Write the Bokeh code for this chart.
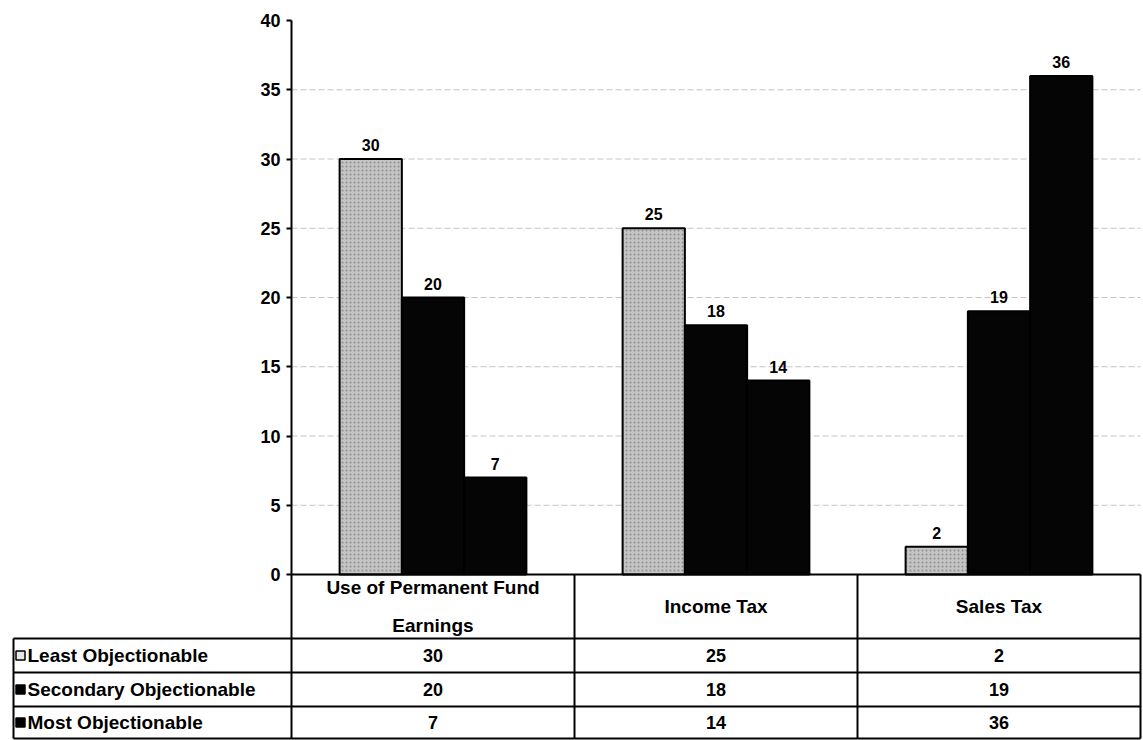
from bokeh.plotting import figure
from bokeh.models import Range1d, FixedTicker
from bokeh.core.properties import value
from bokeh.embed import file_html
from bokeh.resources import INLINE

# ---------------- data ----------------
categories = ["Use of Permanent Fund\nEarnings", "Income Tax", "Sales Tax"]
series_names = ["Least Objectionable", "Secondary Objectionable", "Most Objectionable"]
least = [30, 25, 2]
secondary = [20, 18, 19]
most = [7, 14, 36]
y_ticks = [0, 5, 10, 15, 20, 25, 30, 35, 40]
grid_values = [5, 10, 15, 20, 25, 30, 35]

# ---------------- layout (pixels) ----------------
W, H = 1143, 740
AXIS_PX = 291            # x pixel of value axis
CAT_PX = 283             # width of one category in pixels
TOP_PX, ZERO_PX = 20, 574  # pixel rows of 40 and 0
unit = (ZERO_PX - TOP_PX) / 40.0

def px_x(px):
    return (px - AXIS_PX) / CAT_PX

def px_y(py):
    return (ZERO_PX - py) / unit

x_start, x_end = px_x(0), px_x(W)
y_start, y_end = px_y(H), px_y(0)

row_lines = [px_y(638), px_y(672), px_y(706), px_y(738)]
left_edge = px_x(13)

FONT = value("Liberation Sans")

p = figure(width=W, height=H, x_range=Range1d(x_start, x_end),
           y_range=Range1d(y_start, y_end), output_backend="svg",
           toolbar_location=None, min_border=0, x_axis_location=None,
           y_axis_location="left", outline_line_color=None,
           background_fill_color="white", border_fill_color="white")
p.xgrid.visible = False
p.ygrid.visible = False

ax = p.yaxis[0]
ax.fixed_location = 0
ax.bounds = (0, 40)
ax.ticker = FixedTicker(ticks=y_ticks, minor_ticks=[])
ax.axis_line_width = 2
ax.axis_line_color = "black"
ax.major_tick_in = 0
ax.major_tick_out = 5
ax.major_tick_line_width = 2
ax.major_tick_line_color = "black"
ax.minor_tick_line_color = None
ax.major_label_text_font = "Liberation Sans"
ax.major_label_text_font_style = "bold"
ax.major_label_text_font_size = "18px"
ax.major_label_text_color = "black"
ax.major_label_standoff = 6

ncat = len(categories)

# gridlines
p.segment(x0=[0] * len(grid_values), x1=[ncat] * len(grid_values),
          y0=grid_values, y1=grid_values, line_color="#c4c4c4",
          line_dash="6 3", line_width=1)

# bars
bar_w = 0.22
offsets = [-bar_w, 0.0, bar_w]
fills = ["#c4c4c4", "#050505", "#050505"]
series = [least, secondary, most]
for vals, off, fill in zip(series, offsets, fills):
    xs = [i + 0.5 + off for i in range(ncat)]
    kw = {}
    if fill != "#050505":
        kw = dict(hatch_pattern="dot", hatch_color="#777777", hatch_scale=4,
                  hatch_weight=1, hatch_alpha=0.7)
    p.vbar(x=xs, top=vals, bottom=0, width=bar_w, fill_color=fill,
           line_color="black", line_width=2, **kw)
    p.text(x=xs, y=vals, text=[str(v) for v in vals], text_align="center",
           text_baseline="bottom", y_offset=-8, text_font=FONT,
           text_font_style="bold", text_font_size="16px", text_color="black")

# ---------------- data table ----------------
bottom = row_lines[-1]
# vertical lines of category columns
p.segment(x0=list(range(ncat + 1)), x1=list(range(ncat + 1)),
          y0=[0] * (ncat + 1), y1=[bottom] * (ncat + 1),
          line_color="black", line_width=2)
# left box vertical
p.segment(x0=[left_edge], x1=[left_edge], y0=[row_lines[0]], y1=[bottom],
          line_color="black", line_width=2)
# horizontal lines
p.segment(x0=[0], x1=[ncat], y0=[0], y1=[0], line_color="black", line_width=2)
p.segment(x0=[left_edge] * len(row_lines), x1=[ncat] * len(row_lines),
          y0=row_lines, y1=row_lines, line_color="black", line_width=2)

cx = [i + 0.5 for i in range(ncat)]
# header
p.text(x=cx, y=[row_lines[0] / 2] * ncat, text=categories, text_align="center",
       text_baseline="middle", text_line_height=1.85, text_font=FONT,
       text_font_style="bold", text_font_size="19px", text_color="black")

# rows
row_mids = [(row_lines[i] + row_lines[i + 1]) / 2 for i in range(3)]
for vals, ym in zip(series, row_mids):
    p.text(x=cx, y=[ym] * ncat, text=[str(v) for v in vals], text_align="center",
           text_baseline="middle", text_font=FONT, text_font_style="bold",
           text_font_size="18px", text_color="black")

marker_fills = ["#e6e6e6", "black", "black"]
p.scatter(x=[px_x(20)] * 3, y=row_mids, marker="square", size=9,
          fill_color=marker_fills, line_color="black", line_width=1.5)
p.text(x=[px_x(27)] * 3, y=row_mids, text=series_names, text_align="left",
       text_baseline="middle", text_font=FONT, text_font_style="bold",
       text_font_size="19px", text_color="black")

open("out.html", "w").write(file_html(p, INLINE))
